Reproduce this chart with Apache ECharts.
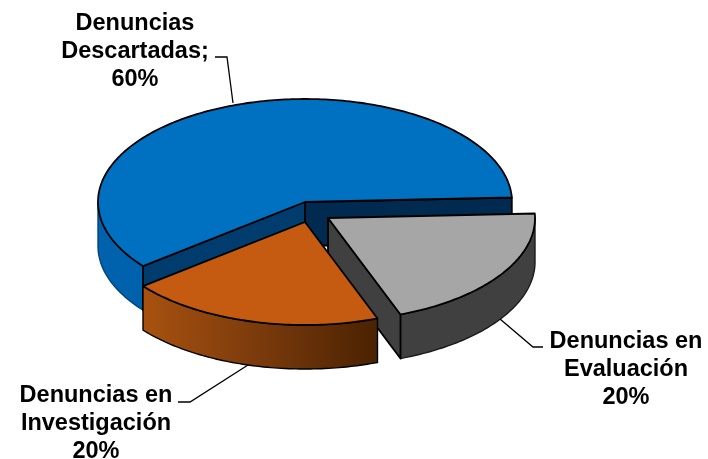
<!DOCTYPE html>
<html>
<head>
<meta charset="utf-8">
<style>
  html, body { margin: 0; padding: 0; background: #fff; }
  #chart { width: 708px; height: 459px; }
</style>
<script src="https://cdn.jsdelivr.net/npm/echarts@6/dist/echarts.min.js"></script>
</head>
<body>
<div id="chart"></div>
<script>
var categories = ['Denuncias\nDescartadas;', 'Denuncias en\nInvestigación', 'Denuncias en\nEvaluación'];
var percentValues = [60, 20, 20];

// tilted pie geometry
var startAngle = 2.5;
var rx = 207, ry = 103, depth = 44;
var centers = [[305, 202], [305, 222], [328, 218]];
var drawOrder = [0, 2, 1];

var sliceStyles = [
  {top: '#0070c0', side: '#0062ac', sideStroke: '#00447a', startWall: '#002a50', endWall: '#003c6e'},
  {top: '#c55a11', side: new echarts.graphic.LinearGradient(0, 0, 1, 0, [
    {offset: 0, color: '#a8520f'},
    {offset: 0.5, color: '#7a3a0c'},
    {offset: 1, color: '#4a2202'}
  ]), sideStroke: '#000', startWall: '#404040', endWall: '#404040'},
  {top: '#a6a6a6', side: '#404040', sideStroke: '#1a1a1a', startWall: '#404040', endWall: '#404040'}
];

// text anchor and leader line of each label
var labelLayout = [
  {x: 135, y: 52, line: [[215, 57], [227, 57], [233, 103]]},
  {x: 96, y: 424, line: [[178, 402], [190, 402], [248, 365]]},
  {x: 626, y: 370, line: [[543, 347], [533, 347], [500, 319]]}
];

function pt(c, deg, dy) {
  var a = deg * Math.PI / 180;
  return [c[0] + rx * Math.cos(a), c[1] - ry * Math.sin(a) + (dy || 0)];
}

function arcPoints(c, from, to, dy) {
  var pts = [];
  var n = Math.max(1, Math.ceil(Math.abs(to - from)));
  for (var i = 0; i <= n; i++) {
    pts.push(pt(c, from + (to - from) * i / n, dy));
  }
  return pts;
}

function wall(c, deg, fill, z) {
  var p = pt(c, deg);
  return {
    type: 'polygon',
    z2: z,
    shape: {points: [c, p, pt(c, deg, depth), [c[0], c[1] + depth]]},
    style: {fill: fill, stroke: '#000', lineWidth: 1.8, lineJoin: 'round'}
  };
}

function renderSlice(params, api) {
  var i = params.dataIndex;
  var total = percentValues.reduce(function (s, v) { return s + v; }, 0);
  var before = 0;
  for (var k = 0; k < i; k++) before += percentValues[k];
  var a0 = startAngle + before / total * 360;
  var a1 = a0 + api.value(0) / total * 360;
  var c = centers[i];
  var st = sliceStyles[i];
  var z = drawOrder[i] * 10;
  var kids = [];

  // outer wall, only the arc facing the viewer
  var f0 = Math.max(a0, 180), f1 = Math.min(a1, 360);
  if (f1 > f0) {
    var upper = arcPoints(c, f0, f1, 0);
    var lower = arcPoints(c, f1, f0, depth);
    kids.push({
      type: 'polygon',
      z2: z + 1,
      shape: {points: upper.concat(lower)},
      style: {fill: st.side, stroke: st.sideStroke, lineWidth: 1.4, lineJoin: 'round'}
    });
  }
  // cut faces
  if (Math.cos(a0 * Math.PI / 180) > 0) kids.push(wall(c, a0, st.startWall, z + 2));
  if (Math.cos(a1 * Math.PI / 180) < 0) kids.push(wall(c, a1, st.endWall, z + 2));
  // top face
  kids.push({
    type: 'polygon',
    z2: z + 3,
    shape: {points: [c].concat(arcPoints(c, a0, a1, 0))},
    style: {fill: st.top, stroke: '#000', lineWidth: 1.8, lineJoin: 'round'}
  });

  var lab = labelLayout[i];
  kids.push({
    type: 'polyline',
    z2: 40,
    shape: {points: lab.line},
    style: {fill: null, stroke: '#000', lineWidth: 1.3}
  });
  kids.push({
    type: 'text',
    z2: 41,
    x: lab.x,
    y: lab.y,
    style: {
      text: categories[i] + '\n' + api.value(0) + '%',
      fill: '#000',
      font: 'bold 23.5px "Liberation Sans", Arial, sans-serif',
      lineHeight: 28,
      align: 'center',
      verticalAlign: 'middle'
    }
  });
  return {type: 'group', children: kids};
}

var myChart = echarts.init(document.getElementById('chart'));
myChart.setOption({
  animation: false,
  backgroundColor: '#fff',
  series: [{
    type: 'custom',
    coordinateSystem: 'none',
    renderItem: renderSlice,
    data: percentValues.map(function (v) { return [v]; })
  }]
});
</script>
</body>
</html>
